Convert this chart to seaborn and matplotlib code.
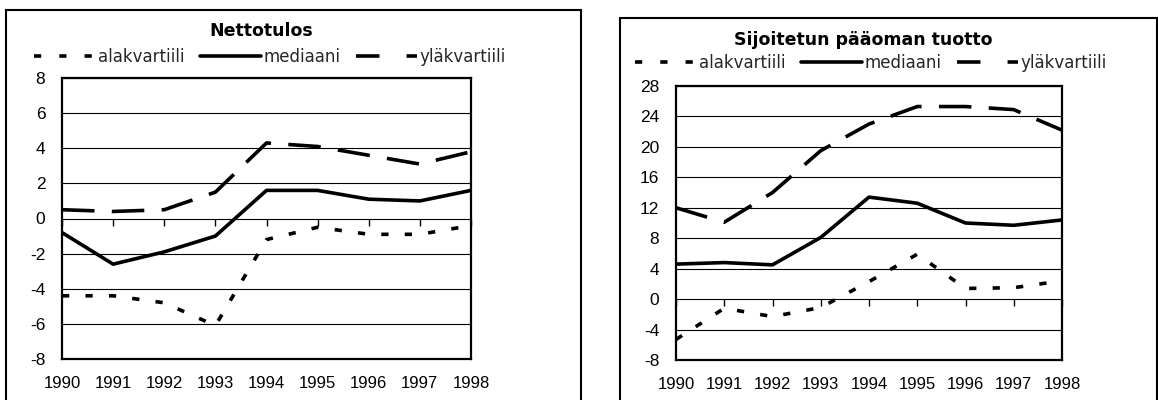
import matplotlib
matplotlib.use("Agg")
import matplotlib.pyplot as plt
from matplotlib.patches import Rectangle
import numpy as np
import pandas as pd
import seaborn as sns

years = [1990, 1991, 1992, 1993, 1994, 1995, 1996, 1997, 1998]
series_labels = ["alakvartiili", "mediaani", "yläkvartiili"]

netto_title = "Nettotulos"
netto_ala = [-4.4, -4.4, -4.8, -6.1, -1.2, -0.5, -0.9, -0.9, -0.4]
netto_med = [-0.8, -2.6, -1.9, -1.0, 1.6, 1.6, 1.1, 1.0, 1.6]
netto_yla = [0.5, 0.4, 0.5, 1.5, 4.3, 4.1, 3.6, 3.1, 3.8]
netto_yticks = [-8, -6, -4, -2, 0, 2, 4, 6, 8]

roi_title = "Sijoitetun pääoman tuotto"
roi_ala = [-5.3, -1.2, -2.3, -1.1, 2.3, 5.9, 1.4, 1.5, 2.4]
roi_med = [4.6, 4.8, 4.5, 8.1, 13.4, 12.6, 10.0, 9.7, 10.4]
roi_yla = [12.0, 10.1, 14.0, 19.5, 23.0, 25.3, 25.3, 24.9, 22.2]
roi_yticks = [-8, -4, 0, 4, 8, 12, 16, 20, 24, 28]

sns.set_style("white")
plt.rcParams["font.family"] = ["Liberation Sans", "DejaVu Sans"]
plt.rcParams["axes.unicode_minus"] = False

W, H = 1158, 400
fig = plt.figure(figsize=(W / 100, H / 100), dpi=100)


def px_rect(x0, x1, ytop, ybot):
    return [x0 / W, 1 - ybot / H, (x1 - x0) / W, (ybot - ytop) / H]


def panel(rect, title, ala, med, yla, yticks, title_c, legend_c, box):
    ax = fig.add_axes(rect)
    df = pd.DataFrame({
        "Vuosi": years * 3,
        "Arvo": ala + med + yla,
        "Sarja": [series_labels[0]] * len(years) + [series_labels[1]] * len(years)
                 + [series_labels[2]] * len(years),
    })
    sns.lineplot(data=df, x="Vuosi", y="Arvo", style="Sarja", style_order=series_labels,
                 dashes={series_labels[0]: (2, 4.5), series_labels[1]: "",
                         series_labels[2]: (9, 4.8)},
                 color="black", linewidth=2.6, ax=ax)
    leg = ax.get_legend()
    handles = list(leg.legend_handles)
    labels = [t.get_text() for t in leg.texts]
    leg.remove()
    for h in handles:
        h.set_color("black")
        h.set_linewidth(2.6)
    handles[0].set_dashes((2, 5))
    handles[2].set_dashes((6.5, 7.5))
    ax.legend(handles, labels, loc="center", bbox_to_anchor=(legend_c[0] / W, 1 - legend_c[1] / H),
              bbox_transform=fig.transFigure, ncol=3, frameon=False,
              handlelength=3.7, handletextpad=0.15, columnspacing=0.9,
              prop={"family": "DejaVu Sans", "size": 12}, borderaxespad=0, borderpad=0)

    ymin, ymax = yticks[0], yticks[-1]
    ax.set_xlim(years[0], years[-1])
    ax.set_ylim(ymin, ymax)
    ax.set_xticks(years)
    ax.set_xticklabels([str(y) for y in years])
    ax.set_yticks(yticks)
    ax.set_xlabel("")
    ax.set_ylabel("")
    ax.set_axisbelow(True)
    ax.yaxis.grid(True, color="black", linewidth=0.8)
    ax.xaxis.grid(False)
    for sp in ax.spines.values():
        sp.set_visible(True)
        sp.set_color("black")
        sp.set_linewidth(1.6)
    ax.tick_params(axis="x", length=0, pad=12, labelsize=12, colors="black")
    ax.tick_params(axis="y", length=4, width=1, direction="in", pad=12, labelsize=12.5,
                   colors="black")

    zero_frac = (0 - ymin) / (ymax - ymin)
    sec = ax.secondary_xaxis(min(zero_frac, 0.4999))
    sec.set_xticks(years)
    sec.tick_params(axis="x", length=5, width=1, direction="out", labelbottom=False,
                    labeltop=False, colors="black")
    for sp in sec.spines.values():
        sp.set_visible(False)

    fig.text(title_c[0] / W, 1 - title_c[1] / H, title, ha="center", va="center",
             family="DejaVu Sans", fontweight="bold", fontsize=12.5, color="black")

    bx0, bx1, bytop = box
    fig.add_artist(Rectangle((bx0 / W, -0.02), (bx1 - bx0) / W, 1.02 - bytop / H,
                             transform=fig.transFigure, fill=False, ec="black", lw=1.5))
    return ax


panel(px_rect(62, 471, 78, 359), netto_title, netto_ala, netto_med, netto_yla,
      netto_yticks, (261, 31), (270, 57), (6, 581, 10))
panel(px_rect(676, 1062, 86, 360), roi_title, roi_ala, roi_med, roi_yla,
      roi_yticks, (863, 40), (871, 63), (620, 1156.5, 18))

fig.savefig("out.png", dpi=100, facecolor="white")
